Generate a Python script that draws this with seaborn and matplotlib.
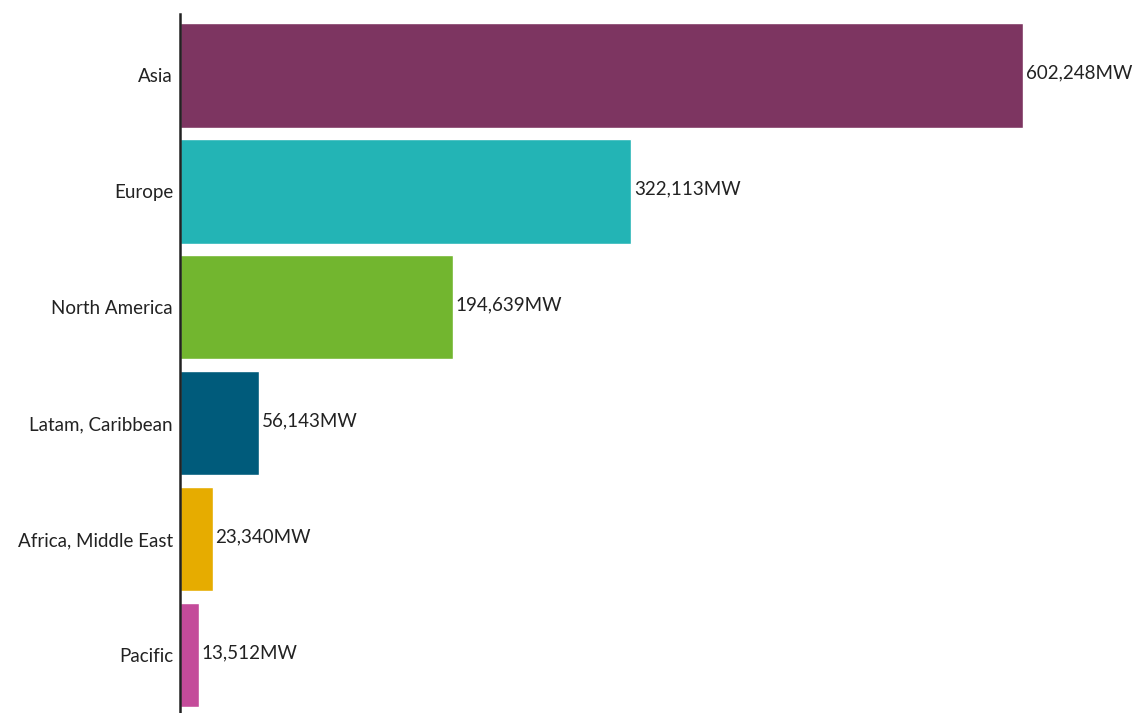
import matplotlib
matplotlib.use("Agg")
import matplotlib.pyplot as plt
import seaborn as sns
import pandas as pd

regions = ["Asia", "Europe", "North America", "Latam, Caribbean",
           "Africa, Middle East", "Pacific"]
capacity_mw = [602248, 322113, 194639, 56143, 23340, 13512]
colors = ["#7D3561", "#23B4B5", "#72B62F", "#005B7B", "#E6AC00", "#C44B9A"]

df = pd.DataFrame({"region": regions, "mw": capacity_mw})

sns.set_theme(style="white")
plt.rcParams["font.family"] = ["Lato", "DejaVu Sans"]

fig = plt.figure(figsize=(11.47, 7.13), dpi=100)
ax = fig.add_axes([180 / 1147, 0.0, 1 - 180 / 1147, 699 / 713])

sns.barplot(data=df, y="region", x="mw", hue="region", palette=colors,
            order=regions, hue_order=regions, width=0.9, saturation=1,
            legend=False, orient="h", ax=ax)

for i, v in enumerate(capacity_mw):
    ax.text(v + 2000, i - 0.02, f"{v:,}MW", va="center", ha="left",
            fontsize=13.5, color="#222222")

ax.set_xlim(0, 690700)
ax.set_ylim(5.5, -0.53)
ax.set_xlabel("")
ax.set_ylabel("")
ax.set_xticks([])
for s in ["top", "right", "bottom"]:
    ax.spines[s].set_visible(False)
ax.spines["left"].set_color("#222222")
ax.spines["left"].set_linewidth(1.8)
ax.tick_params(axis="y", length=0, pad=5, labelsize=13.5, labelcolor="#222222")

fig.savefig("out.png", dpi=100)
